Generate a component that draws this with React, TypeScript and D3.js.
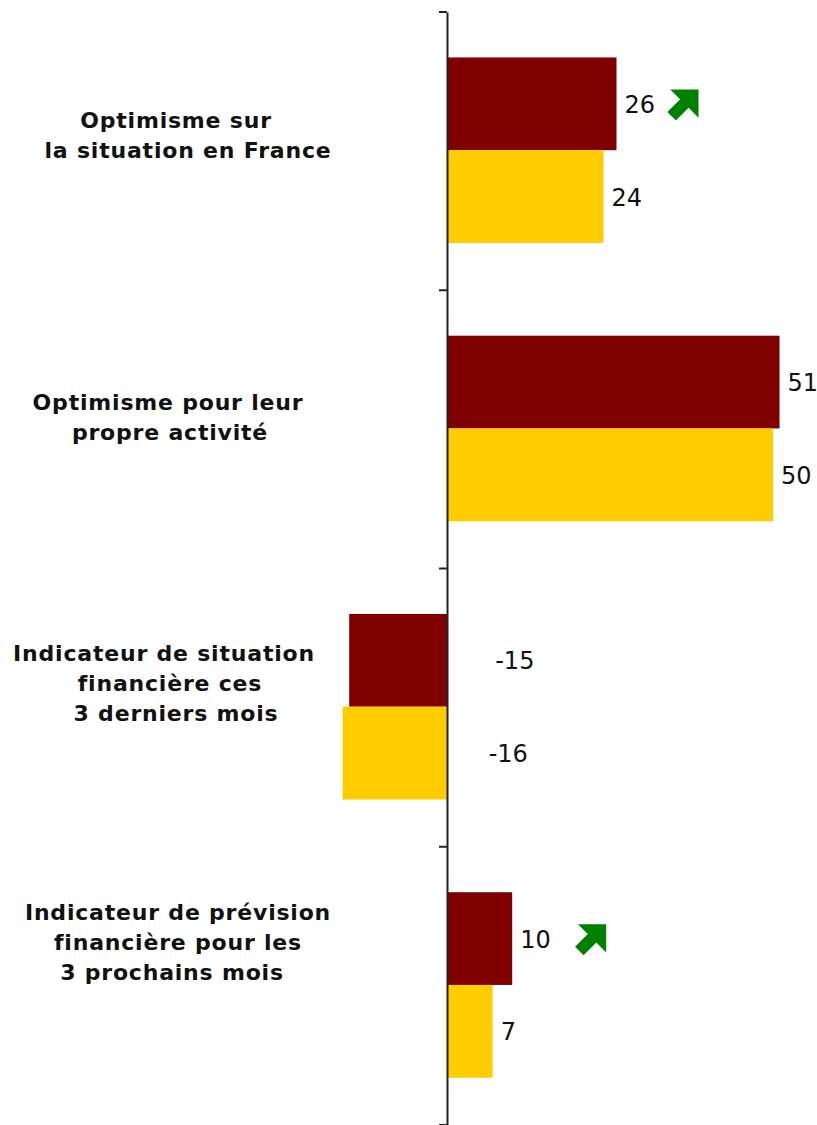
import { useEffect, useRef } from 'react';
import * as d3 from 'd3';

// categories, one entry per line of the label
const categories = [
  ['Optimisme sur', 'la situation en France'],
  ['Optimisme pour leur', 'propre activité'],
  ['Indicateur de situation', 'financière ces', '3 derniers mois'],
  ['Indicateur de prévision', 'financière pour les', '3 prochains mois'],
];
const series = ['current', 'previous'];
const currentValues = [26, 51, -15, 10];
const previousValues = [24, 50, -16, 7];
// categories marked with a rising arrow
const risingCategories = [0, 3];

const WIDTH = 817;
const HEIGHT = 1125;
const COLORS: Record<string, string> = { current: '#800000', previous: '#FFCC00' };
const LABEL_DY = [-23, -19, -47, -66];
const LINE_DX = [[2, 14], [-6, -4], [-10, -4, 2], [4, 4, -2]];
const ARROW_DX = [82, 94];

export default function App() {
  const svgRef = useRef<SVGSVGElement>(null);

  useEffect(() => {
    if (!svgRef.current) return;
    const svg = d3.select(svgRef.current);
    svg.selectAll('*').remove();

    const keys = categories.map((_, i) => String(i));
    const y0 = d3.scaleBand<string>().domain(keys).range([12, HEIGHT]);
    const y1 = d3.scaleBand<string>().domain(series).range([0, y0.bandwidth()]).paddingOuter(0.5).align(0.49);
    const x = d3.scaleLinear().domain([0, 51]).range([447, 779.5]);

    const rows = keys.flatMap((k, i) => [
      { k, s: 'current', v: currentValues[i] },
      { k, s: 'previous', v: previousValues[i] },
    ]);

    svg.append('g')
      .selectAll('rect')
      .data(rows)
      .join('rect')
      .attr('x', (d) => Math.min(x(0), x(d.v)))
      .attr('y', (d) => (y0(d.k) ?? 0) + (y1(d.s) ?? 0))
      .attr('width', (d) => Math.abs(x(d.v) - x(0)))
      .attr('height', y1.bandwidth())
      .attr('fill', (d) => COLORS[d.s]);

    // axis
    const axis = d3.axisLeft(y0).tickValues([]).tickSizeOuter(0);
    const ag = svg.append('g').attr('transform', `translate(${x(0)},0)`).call(axis);
    ag.select('.domain').attr('stroke', '#222').attr('stroke-width', 2);
    const bounds = [...keys.map((k) => y0(k) ?? 0), HEIGHT];
    ag.selectAll('line.tk')
      .data(bounds)
      .join('line')
      .attr('class', 'tk')
      .attr('x1', -8)
      .attr('x2', 0)
      .attr('y1', (d) => d)
      .attr('y2', (d) => d)
      .attr('stroke', '#222')
      .attr('stroke-width', 2);

    // value labels
    svg.append('g')
      .selectAll('text')
      .data(rows)
      .join('text')
      .attr('x', (d) => (d.v >= 0 ? x(d.v) + 8 : x(d.v) + 146))
      .attr('y', (d) => (y0(d.k) ?? 0) + (y1(d.s) ?? 0) + y1.bandwidth() / 2 + 1)
      .attr('dominant-baseline', 'central')
      .attr('font-family', 'DejaVu Sans, Verdana, sans-serif')
      .attr('font-size', 24)
      .attr('fill', '#111')
      .text((d) => d.v);

    // category labels
    const lg = svg.append('g')
      .attr('font-family', 'DejaVu Sans, Verdana, sans-serif')
      .attr('font-size', 22)
      .attr('font-weight', 'bold')
      .attr('letter-spacing', 0.8)
      .attr('text-anchor', 'middle')
      .attr('fill', '#111');
    categories.forEach((lines, i) => {
      const cy = (y0(keys[i]) ?? 0) + y0.bandwidth() / 2 + LABEL_DY[i];
      lines.forEach((line, j) => {
        lg.append('text')
          .attr('x', 174 + LINE_DX[i][j])
          .attr('y', cy + j * 30)
          .text(line);
      });
    });

    // green rising arrows
    const arrowPath = 'M0,0 L-20,-20 L-20,-6 L-38,-6 L-38,6 L-20,6 L-20,20 Z';
    risingCategories.forEach((c, i) => {
      const tipX = x(currentValues[c]) + ARROW_DX[i];
      const tipY = (y0(keys[c]) ?? 0) + (y1('current') ?? 0) + 32;
      svg.append('path')
        .attr('d', arrowPath)
        .attr('transform', `translate(${tipX},${tipY}) rotate(-45)`)
        .attr('fill', '#008000');
    });
  }, []);

  return (
    <svg
      ref={svgRef}
      width={WIDTH}
      height={HEIGHT}
      style={{ position: 'absolute', left: 0, top: 0, background: '#fff' }}
    />
  );
}
